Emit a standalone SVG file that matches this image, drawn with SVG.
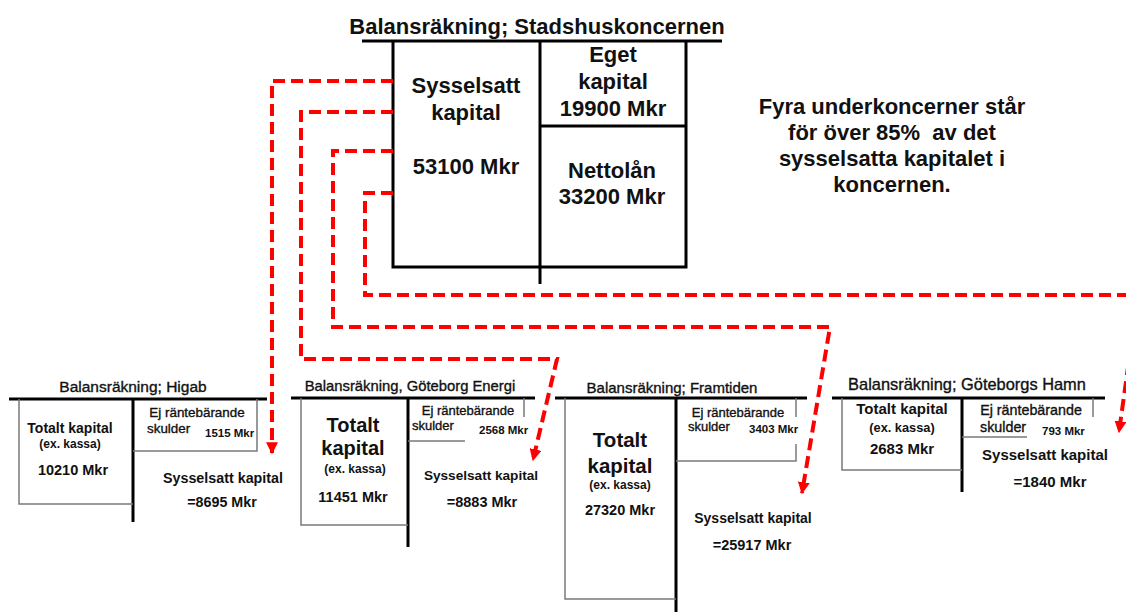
<svg xmlns="http://www.w3.org/2000/svg" width="1126" height="612" viewBox="0 0 1126 612">
<style>
text{font-family:"Liberation Sans",Arial,sans-serif;fill:#111}
.b{font-weight:bold}
.c{text-anchor:middle}
.m{stroke:#111;stroke-width:0.35}
.thick{stroke:#000;stroke-width:3;fill:none}
.thin{stroke:#7a7a7a;stroke-width:1.5;fill:none}
.dash{stroke:#f00;stroke-width:4;fill:none;stroke-dasharray:12 6}
</style>
<defs>
<marker id="arr" markerUnits="userSpaceOnUse" markerWidth="12" markerHeight="12" viewBox="0 0 10 10" refX="9" refY="5" orient="auto">
<path d="M0,0 L10,5 L0,10 z" fill="#f00"/>
</marker>
</defs>
<rect width="1126" height="612" fill="#fff"/>

<g id="stadshus">
<text class="b c" x="537" y="34" font-size="22">Balansräkning; Stadshuskoncernen</text>
<path class="thick" d="M362,41 H722 M393,41 V267 H686 V41 M540,41 V284 M540,126 H686"/>
<text class="b c" x="466" y="93" font-size="22">Sysselsatt</text>
<text class="b c" x="466" y="120" font-size="22">kapital</text>
<text class="b c" x="466" y="174" font-size="22">53100 Mkr</text>
<text class="b c" x="613" y="62" font-size="22">Eget</text>
<text class="b c" x="613" y="89" font-size="22">kapital</text>
<text class="b c" x="613" y="116" font-size="22">19900 Mkr</text>
<text class="b c" x="612" y="178" font-size="22">Nettolån</text>
<text class="b c" x="612" y="204" font-size="22">33200 Mkr</text>
</g>

<g id="note">
<text class="b c" x="892" y="114" font-size="22">Fyra underkoncerner står</text>
<text class="b c" x="892" y="140" font-size="22">för över 85%&#160; av det</text>
<text class="b c" x="892" y="166" font-size="22">sysselsatta kapitalet i</text>
<text class="b c" x="892" y="192" font-size="22">koncernen.</text>
</g>

<g id="higab">
<text class="c m" x="133" y="392" font-size="15.5">Balansräkning; Higab</text>
<path class="thick" d="M9,399 H267 M133,399 V522"/>
<path class="thin" d="M19,399 V504 H133 M257,399 V451 H133"/>
<text class="b c" x="70" y="433" font-size="14">Totalt kapital</text>
<text class="b c" x="70" y="448" font-size="12">(ex. kassa)</text>
<text class="b c" x="73" y="475" font-size="14.5">10210 Mkr</text>
<text class="c m" x="197" y="417" font-size="13.4">Ej räntebärande</text>
<text class="m" x="147" y="433" font-size="13.4">skulder</text>
<text class="b" x="205" y="437" font-size="11.5">1515 Mkr</text>
<text class="b c" x="223" y="483" font-size="14.3">Sysselsatt kapital</text>
<text class="b c" x="222" y="507" font-size="14.3">=8695 Mkr</text>
</g>

<g id="energi">
<text class="c m" x="410" y="391" font-size="14.8">Balansräkning, Göteborg Energi</text>
<path class="thick" d="M291,398 H535 M408,398 V547"/>
<path class="thin" d="M301,398 V525 H408 M524,398 V417 M408,441 H465"/>
<text class="b c" x="353" y="432" font-size="20">Totalt</text>
<text class="b c" x="353" y="455" font-size="20">kapital</text>
<text class="b c" x="355" y="473" font-size="12">(ex. kassa)</text>
<text class="b c" x="353" y="502" font-size="14.5">11451 Mkr</text>
<text class="c m" x="468" y="415" font-size="13">Ej räntebärande</text>
<text class="m" x="412" y="430" font-size="13">skulder</text>
<text class="b" x="479" y="434" font-size="11.5">2568 Mkr</text>
<text class="b c" x="481" y="480" font-size="13.6">Sysselsatt kapital</text>
<text class="b c" x="482" y="507" font-size="14.5">=8883 Mkr</text>
</g>

<g id="framtiden">
<text class="c m" x="672" y="393" font-size="15">Balansräkning; Framtiden</text>
<path class="thick" d="M555,398 H807 M676,398 V612"/>
<path class="thin" d="M565,398 V599 H676 M796,398 V417 M796,444 V461 H676"/>
<text class="b c" x="620" y="447" font-size="20.5">Totalt</text>
<text class="b c" x="620" y="473" font-size="20.5">kapital</text>
<text class="b c" x="620" y="489" font-size="12">(ex. kassa)</text>
<text class="b c" x="620" y="515" font-size="14.5">27320 Mkr</text>
<text class="c m" x="738" y="417" font-size="13">Ej räntebärande</text>
<text class="m" x="688" y="431" font-size="13">skulder</text>
<text class="b" x="749" y="433" font-size="11.5">3403 Mkr</text>
<text class="b c" x="753" y="523" font-size="14">Sysselsatt kapital</text>
<text class="b c" x="752" y="550" font-size="14.5">=25917 Mkr</text>
</g>

<g id="hamn">
<text class="c m" x="967" y="390" font-size="16.4">Balansräkning; Göteborgs Hamn</text>
<path class="thick" d="M832,398 H1105 M962,398 V492"/>
<path class="thin" d="M842,398 V470 H962 M1093,398 V417 M962,437 H1027"/>
<text class="b c" x="902" y="414" font-size="15">Totalt kapital</text>
<text class="b c" x="902" y="432" font-size="12.8">(ex. kassa)</text>
<text class="b c" x="902" y="454" font-size="15">2683 Mkr</text>
<text class="c m" x="1031" y="415" font-size="14.3">Ej räntebärande</text>
<text class="m" x="980" y="432" font-size="14.3">skulder</text>
<text class="b" x="1042" y="435" font-size="11.5">793 Mkr</text>
<text class="b c" x="1045" y="460" font-size="15">Sysselsatt kapital</text>
<text class="b c" x="1050" y="487" font-size="15">=1840 Mkr</text>
</g>

<g id="connectors">
<path class="dash" d="M393,81 H272 V453" marker-end="url(#arr)"/>
<path class="dash" d="M393,112 H301 V359 H557 L533,460" marker-end="url(#arr)"/>
<path class="dash" d="M393,151 H333 V327 H830 L802,493" marker-end="url(#arr)"/>
<path class="dash" d="M393,193 H365 V295 H1138 L1119,432" marker-end="url(#arr)"/>
</g>
</svg>
